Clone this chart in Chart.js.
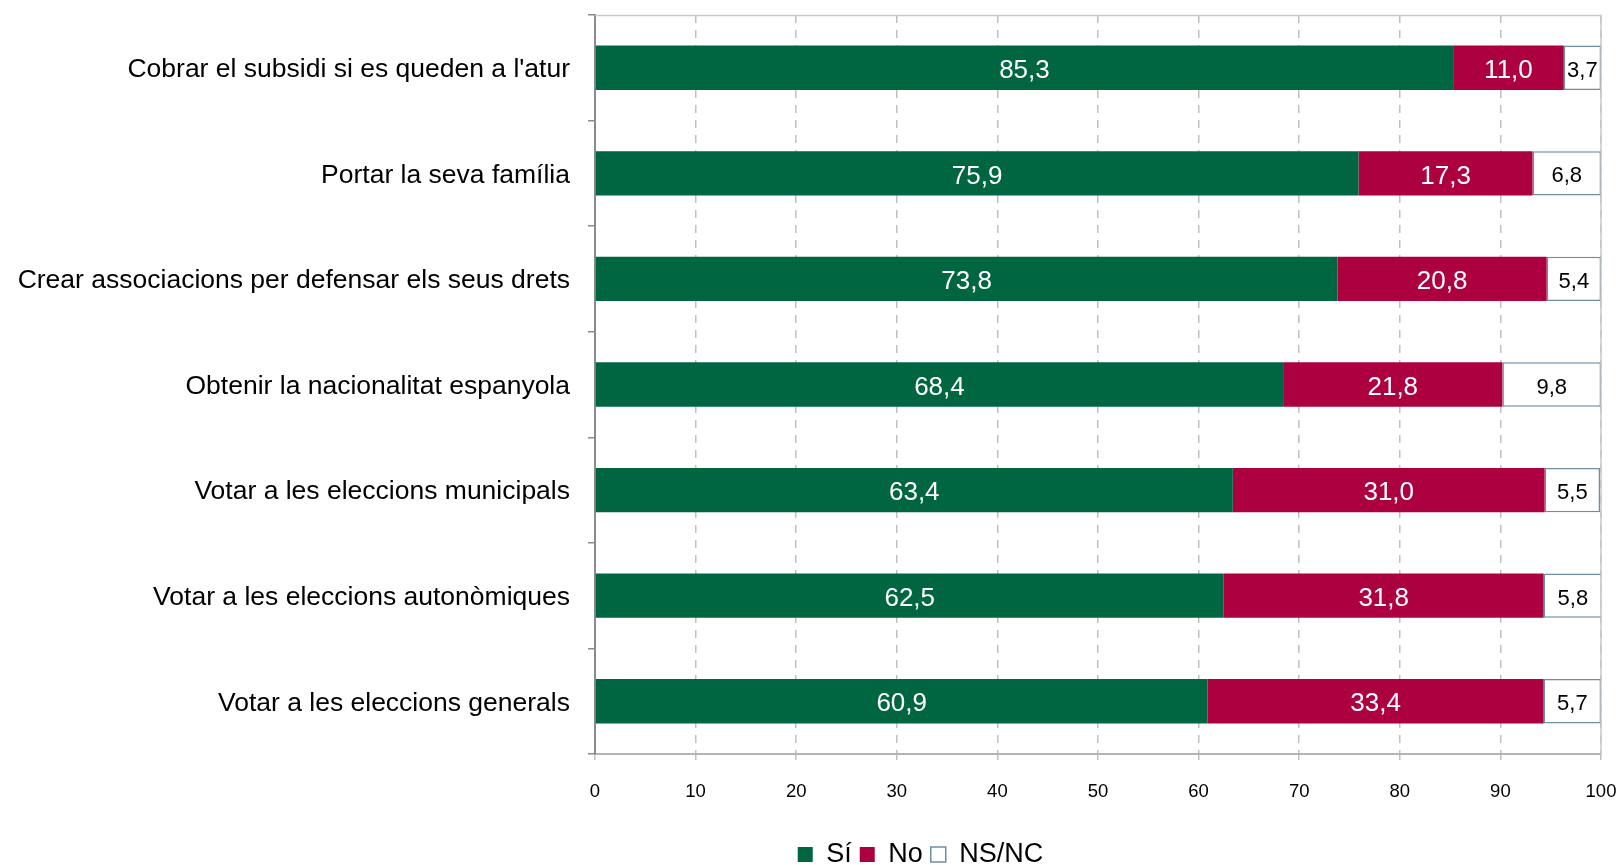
<!DOCTYPE html>
<html lang="ca">
<head>
    <meta charset="UTF-8">
    <title>Drets</title>
    <script src="https://cdn.jsdelivr.net/npm/chart.js@4/dist/chart.umd.min.js"></script>
    <style>
        * { margin: 0; padding: 0; box-sizing: border-box; }
        body { background: white; width: 1622px; height: 865px; overflow: hidden; }
        canvas { display: block; }
    </style>
</head>
<body>
    <canvas id="rightsChart" width="1622" height="865"></canvas>

    <script>
        const categories = [
            "Cobrar el subsidi si es queden a l'atur",
            'Portar la seva família',
            'Crear associacions per defensar els seus drets',
            'Obtenir la nacionalitat espanyola',
            'Votar a les eleccions municipals',
            'Votar a les eleccions autonòmiques',
            'Votar a les eleccions generals'
        ];
        const yesValues = [85.3, 75.9, 73.8, 68.4, 63.4, 62.5, 60.9];
        const noValues = [11.0, 17.3, 20.8, 21.8, 31.0, 31.8, 33.4];
        const dkValues = [3.7, 6.8, 5.4, 9.8, 5.5, 5.8, 5.7];
        const xTicks = [0, 10, 20, 30, 40, 50, 60, 70, 80, 90, 100];

        const FONT = '"Liberation Sans", Arial, sans-serif';
        const fmt = v => v.toFixed(1).replace('.', ',');

        // legend in the original sits right of the page centre
        const legendShift = {
            id: 'legendShift',
            afterLayout(chart) {
                const lg = chart.legend;
                lg.left = 240;
                lg.width = lg.right - lg.left;
            }
        };

        // value labels inside the bars + top/right frame lines
        const barLabels = {
            id: 'barLabels',
            afterDatasetsDraw(chart) {
                const ctx = chart.ctx;
                const area = chart.chartArea;
                ctx.save();
                ctx.strokeStyle = '#c8c8c8';
                ctx.lineWidth = 1.5;
                ctx.beginPath();
                ctx.moveTo(area.left, area.top + 0.5);
                ctx.lineTo(area.right, area.top + 0.5);
                ctx.lineTo(area.right, area.bottom);
                ctx.stroke();

                ctx.textAlign = 'center';
                ctx.textBaseline = 'middle';
                chart.data.datasets.forEach((ds, di) => {
                    const meta = chart.getDatasetMeta(di);
                    meta.data.forEach((bar, i) => {
                        const x = (bar.x + bar.base) / 2;
                        if (di === 2) {
                            ctx.fillStyle = '#000';
                            ctx.font = '22px ' + FONT;
                        } else {
                            ctx.fillStyle = '#fff';
                            ctx.font = '26px ' + FONT;
                        }
                        ctx.fillText(fmt(ds.data[i]), x, bar.y + 3);
                    });
                });
                ctx.restore();
            }
        };

        new Chart(document.getElementById('rightsChart'), {
            type: 'bar',
            data: {
                labels: categories,
                datasets: [
                    {
                        label: 'Sí',
                        data: yesValues,
                        backgroundColor: '#006641',
                        borderWidth: 0,
                        barPercentage: 0.42,
                        categoryPercentage: 1
                    },
                    {
                        label: 'No',
                        data: noValues,
                        backgroundColor: '#ad0040',
                        borderWidth: 0,
                        barPercentage: 0.42,
                        categoryPercentage: 1
                    },
                    {
                        label: 'NS/NC',
                        data: dkValues,
                        backgroundColor: '#ffffff',
                        borderColor: '#6f8ea6',
                        borderWidth: 1.5,
                        borderSkipped: false,
                        barPercentage: 0.42,
                        categoryPercentage: 1
                    }
                ]
            },
            options: {
                indexAxis: 'y',
                responsive: false,
                animation: false,
                layout: {
                    padding: { top: 15, right: 21, left: 0, bottom: -13 }
                },
                plugins: {
                    legend: {
                        position: 'bottom',
                        labels: {
                            color: '#000',
                            font: { size: 27, family: FONT },
                            boxWidth: 15,
                            boxHeight: 15,
                            padding: 8,
                            useBorderRadius: false
                        }
                    },
                    tooltip: { enabled: false }
                },
                scales: {
                    x: {
                        stacked: true,
                        min: 0,
                        max: 100,
                        afterBuildTicks: scale => {
                            scale.ticks = xTicks.map(v => ({ value: v }));
                        },
                        afterFit: scale => {
                            scale.height = 79;
                            scale.paddingLeft = 0;
                            scale.paddingRight = 0;
                        },
                        grid: {
                            color: '#c0c0c0',
                            lineWidth: 1.5,
                            tickLength: 6,
                            tickColor: '#c0c0c0'
                        },
                        border: {
                            color: '#b4b4b4',
                            width: 2,
                            dash: [8, 7]
                        },
                        ticks: {
                            color: '#000',
                            padding: 21,
                            maxRotation: 0,
                            font: { size: 18.5, family: FONT },
                            callback: v => v
                        }
                    },
                    y: {
                        stacked: true,
                        afterFit: scale => {
                            scale.width = 595;
                            scale.paddingTop = 0;
                            scale.paddingBottom = 0;
                        },
                        grid: {
                            offset: true,
                            drawOnChartArea: false,
                            tickLength: 7,
                            color: '#8c8c8c',
                            lineWidth: 1.5
                        },
                        border: {
                            color: '#8c8c8c',
                            width: 2
                        },
                        ticks: {
                            color: '#000',
                            padding: 18,
                            labelOffset: 2,
                            font: { size: 26.5, family: FONT }
                        }
                    }
                }
            },
            plugins: [legendShift, barLabels]
        });
    </script>
</body>
</html>
